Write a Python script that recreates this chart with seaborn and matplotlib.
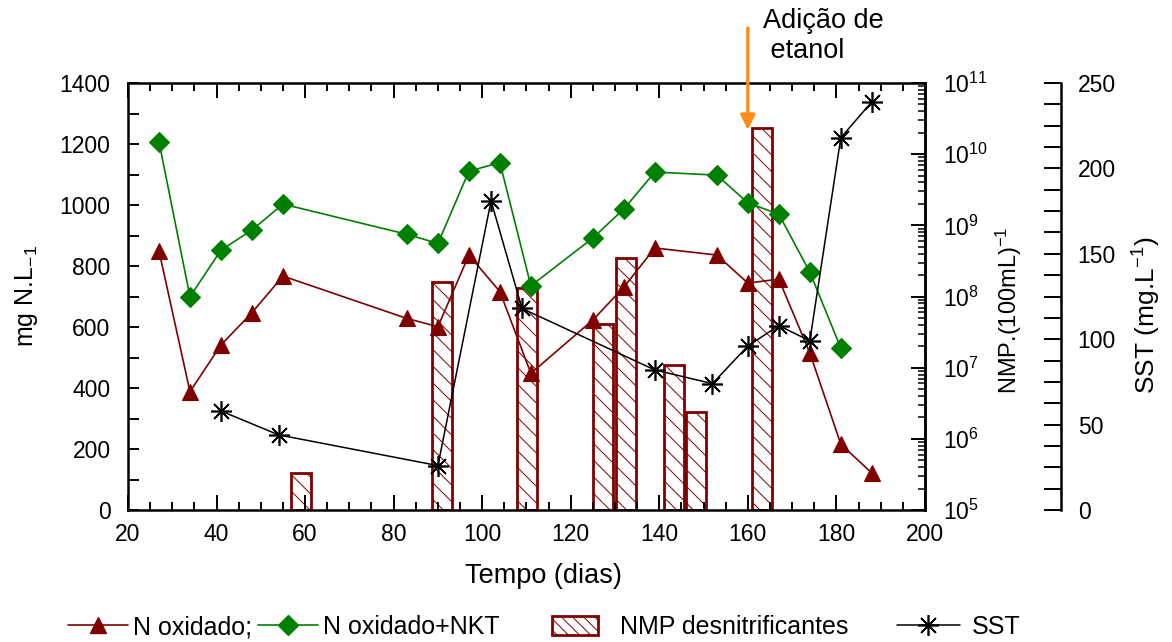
import matplotlib
matplotlib.use("Agg")
import matplotlib.pyplot as plt
from matplotlib.lines import Line2D
from matplotlib.patches import Patch
from matplotlib.ticker import MultipleLocator, LogLocator, NullFormatter
import seaborn as sns

# --- data -------------------------------------------------------------
dias_n = [27, 34, 41, 48, 55, 83, 90, 97, 104, 111, 125, 132, 139, 153, 160, 167, 174, 181, 188]
n_oxidado = [850, 388, 541, 647, 767, 628, 601, 836, 716, 448, 623, 731, 859, 836, 744, 757, 515, 216, 121]

dias_nkt = [27, 34, 41, 48, 55, 83, 90, 97, 104, 111, 125, 132, 139, 153, 160, 167, 174, 181]
n_oxidado_nkt = [1208, 699, 852, 918, 1003, 904, 874, 1111, 1139, 735, 892, 987, 1108, 1098, 1007, 970, 780, 531]

dias_nmp = [59.0, 91.0, 110.2, 127.2, 132.4, 143.3, 148.3, 163.3]
nmp = [3.3e5, 1.6e8, 1.3e8, 4.1e7, 3.5e8, 1.1e7, 2.4e6, 2.35e10]

dias_sst = [41, 54, 90, 102, 109, 139, 152, 160, 167, 174, 181, 188]
sst = [58, 44, 26, 181, 118, 82, 74, 96, 108, 99, 218, 239]

dia_etanol = 160

# --- style ------------------------------------------------------------
sns.set_style("ticks")
plt.rcParams["font.family"] = ["Liberation Sans", "DejaVu Sans"]
plt.rcParams["mathtext.default"] = "regular"
plt.rcParams["axes.edgecolor"] = "black"
plt.rcParams["xtick.color"] = "black"
plt.rcParams["ytick.color"] = "black"
plt.rcParams["text.color"] = "black"
plt.rcParams["axes.labelcolor"] = "black"
plt.rcParams["hatch.linewidth"] = 0.7

VERM = "#800000"
VERDE = "#008000"
LARANJA = "#ff8c1a"
TICK_FS = 16.5

fig = plt.figure(figsize=(11.72, 6.42), dpi=100)
ax = fig.add_axes([0.1092, 0.2056, 0.6800, 0.6651])
ax_nmp = ax.twinx()
ax_sst = ax.twinx()

ax_nmp.set_zorder(1)
ax.set_zorder(2)
ax_sst.set_zorder(3)
ax.patch.set_visible(False)
ax_sst.patch.set_visible(False)

# --- NMP bars (log axis) ---------------------------------------------
NMP_MIN, NMP_MAX = 1e5, 1e11
ax_nmp.set_yscale("log")
ax_nmp.bar(dias_nmp, [v - NMP_MIN for v in nmp], width=4.5, bottom=NMP_MIN,
           facecolor="white", edgecolor=VERM, linewidth=2.0, hatch="\\\\")
ax_nmp.set_ylim(NMP_MIN, NMP_MAX)

# --- nitrogen series --------------------------------------------------
sns.lineplot(x=dias_n, y=n_oxidado, ax=ax, color=VERM, linewidth=1.2,
             marker="^", markersize=12, markeredgecolor=VERM,
             markeredgewidth=0.8, legend=False)
sns.lineplot(x=dias_nkt, y=n_oxidado_nkt, ax=ax, color=VERDE, linewidth=1.2,
             marker="D", markersize=10, markeredgecolor=VERDE,
             markeredgewidth=0.8, legend=False)

# --- SST series -------------------------------------------------------
sns.lineplot(x=dias_sst, y=sst, ax=ax_sst, color="black", linewidth=1.1,
             marker=(8, 2, 0), markersize=15, markeredgecolor="black",
             markeredgewidth=1.2, legend=False)

# --- main axes --------------------------------------------------------
ax.set_xlim(20, 200)
ax.set_ylim(0, 1400)
ax.xaxis.set_major_locator(MultipleLocator(20))
ax.xaxis.set_minor_locator(MultipleLocator(5))
ax.yaxis.set_major_locator(MultipleLocator(200))
ax.yaxis.set_minor_locator(MultipleLocator(100))
ax.tick_params(axis="x", which="both", direction="in", top=True, bottom=True,
               labelsize=TICK_FS, pad=9, width=1.4)
ax.tick_params(axis="x", which="major", length=11)
ax.tick_params(axis="x", which="minor", length=5.5)
ax.tick_params(axis="y", which="both", direction="in", left=True, right=False,
               labelsize=TICK_FS, pad=12.5, width=1.4, length=8)
for s in ax.spines.values():
    s.set_linewidth(1.8)
    s.set_visible(True)
ax.set_xlabel("Tempo (dias)", fontsize=19.5)
ax.xaxis.set_label_coords(0.5207, -0.125)
ax.set_ylabel("")

# --- NMP axis ---------------------------------------------------------
ax_nmp.yaxis.set_major_locator(LogLocator(base=10, numticks=10))
ax_nmp.yaxis.set_minor_locator(LogLocator(base=10, subs=range(2, 10), numticks=20))
ax_nmp.yaxis.set_minor_formatter(NullFormatter())
ax_nmp.tick_params(axis="y", which="both", direction="in", right=True, left=False,
                   labelsize=TICK_FS, pad=13, width=1.4)
ax_nmp.tick_params(axis="y", which="major", length=10)
ax_nmp.tick_params(axis="y", which="minor", length=5, width=1.1)
for k, s in ax_nmp.spines.items():
    s.set_visible(k == "right")
    s.set_linewidth(1.8)

# --- SST axis ---------------------------------------------------------
ax_sst.set_ylim(0, 250)
ax_sst.spines["right"].set_position(("axes", 1.1707))
for k, s in ax_sst.spines.items():
    s.set_visible(k == "right")
    s.set_linewidth(1.8)
ax_sst.yaxis.set_major_locator(MultipleLocator(50))
ax_sst.yaxis.set_minor_locator(MultipleLocator(12.5))
ax_sst.tick_params(axis="y", which="both", direction="in", right=True, left=False,
                   labelsize=TICK_FS, pad=12, width=1.4, length=12)
ax_sst.set_ylabel("")

# --- axis titles ------------------------------------------------------
fig.text(26 / 1172, 1 - 296 / 642, "mg N.L$_{-1}$", rotation=90,
         ha="center", va="center", fontsize=18)
fig.text(1009 / 1172, 1 - 310 / 642, "NMP.(100mL)$^{-1}$", rotation=90,
         ha="center", va="center", fontsize=17)
fig.text(1147 / 1172, 1 - 315 / 642, "SST (mg.L$^{-1}$)", rotation=90,
         ha="center", va="center", fontsize=19)

# --- ethanol dosing marker -------------------------------------------
ax.annotate("", xy=(dia_etanol, 1246), xytext=(dia_etanol, 1580),
            xycoords="data", textcoords="data", annotation_clip=False,
            arrowprops=dict(arrowstyle="-|>", color=LARANJA, lw=2.4,
                            mutation_scale=22, shrinkA=0, shrinkB=0))
fig.text(763 / 1172, 1 - 8 / 642, "Adição de\n etanol", ha="left", va="top",
         fontsize=19.5, linespacing=1.2)

# --- legend -----------------------------------------------------------
h_nox = Line2D([], [], color=VERM, lw=1.2, marker="^", markersize=12,
               markeredgecolor=VERM)
h_nkt = Line2D([], [], color=VERDE, lw=1.2, marker="D", markersize=10,
               markeredgecolor=VERDE)
h_nmp = Patch(facecolor="white", edgecolor=VERM, linewidth=2.0, hatch="\\\\\\")
h_sst = Line2D([], [], color="black", lw=1.1, marker=(8, 2, 0), markersize=15,
               markeredgecolor="black", markeredgewidth=1.2)

y_leg = 1 - 627 / 642
common = dict(loc="center left", frameon=False, fontsize=18, borderpad=0,
              borderaxespad=0)
fig.legend([h_nox, h_nkt], ["N oxidado;", "N oxidado+NKT"], ncol=2,
           bbox_to_anchor=(68 / 1172, y_leg), handlelength=2.4,
           handletextpad=0.2, columnspacing=0.25, **common)
fig.legend([h_nmp], ["NMP desnitrificantes"],
           bbox_to_anchor=(552 / 1172, y_leg), handlelength=1.84,
           handleheight=0.8, handletextpad=0.88, **common)
fig.legend([h_sst], ["SST"], bbox_to_anchor=(897 / 1172, y_leg),
           handlelength=2.5, handletextpad=0.5, **common)

fig.savefig("out.png", dpi=100)
